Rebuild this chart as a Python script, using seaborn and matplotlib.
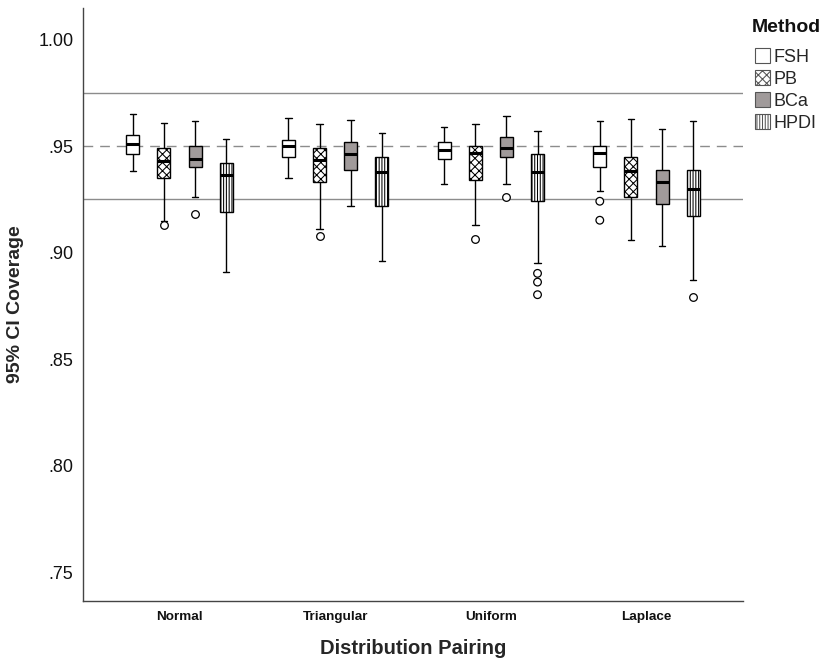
import numpy as np
import pandas as pd
import matplotlib
matplotlib.use("Agg")
import matplotlib.pyplot as plt
from matplotlib.patches import Patch
from matplotlib.ticker import FuncFormatter
import seaborn as sns

# Coverage of 95% confidence intervals, summarised per distribution pairing and method
dists = ["Normal", "Triangular", "Uniform", "Laplace"]
methods = ["FSH", "PB", "BCa", "HPDI"]

# Five-number summaries (lower whisker, Q1, median, Q3, upper whisker), one list per method
fsh = [[.9383, .9461, .9511, .9552, .9649],
       [.9350, .9450, .9500, .9530, .9630],
       [.9320, .9439, .9481, .9520, .9591],
       [.9291, .9400, .9466, .9500, .9619]]
pb = [[.9150, .9351, .9431, .9489, .9609],
      [.9112, .9331, .9434, .9491, .9602],
      [.9130, .9341, .9466, .9500, .9602],
      [.9059, .9259, .9384, .9450, .9628]]
bca = [[.9259, .9400, .9440, .9498, .9619],
       [.9220, .9389, .9462, .9520, .9620],
       [.9322, .9450, .9492, .9541, .9642],
       [.9031, .9230, .9331, .9389, .9580]]
hpdi = [[.8911, .9191, .9365, .9422, .9531],
        [.8961, .9220, .9377, .9450, .9559],
        [.8950, .9241, .9377, .9461, .9570],
        [.8870, .9170, .9300, .9389, .9619]]

# Outlying coverage values (distribution, method, value)
out_dist = ["Normal", "Normal", "Triangular", "Uniform", "Uniform",
            "Uniform", "Uniform", "Uniform", "Laplace", "Laplace", "Laplace"]
out_method = ["PB", "BCa", "PB", "PB", "BCa",
              "HPDI", "HPDI", "HPDI", "FSH", "FSH", "HPDI"]
out_value = [.9130, .9180, .9080, .9063, .9259,
             .8903, .8862, .8803, .9241, .9152, .8791]

# Bradley's liberal bounds around the nominal level
lower_bound, nominal, upper_bound = 0.925, 0.95, 0.975

fills = {"FSH": "white", "PB": "white", "BCa": "#a09a9a", "HPDI": "white"}
hatches = {"FSH": "", "PB": "xxxx", "BCa": "", "HPDI": "||||||"}

summaries = {"FSH": fsh, "PB": pb, "BCa": bca, "HPDI": hpdi}
rows = []
for m in methods:
    for d, five in zip(dists, summaries[m]):
        for v in five:
            rows.append({"dist": d, "method": m, "value": v})
box_df = pd.DataFrame(rows)
out_df = pd.DataFrame({"dist": out_dist, "method": out_method, "value": out_value})

sns.set_style("white")
plt.rcParams["font.family"] = ["Liberation Sans", "DejaVu Sans"]
plt.rcParams["hatch.linewidth"] = 0.75

fig = plt.figure(figsize=(8.27, 6.65), dpi=100)
ax = fig.add_axes([83 / 827, 1 - 601 / 665, 660 / 827, 593 / 665])

for yv in (upper_bound, lower_bound):
    ax.axhline(yv, color="#8c8c8c", lw=1.0, zorder=0.5)
ax.axhline(nominal, color="#8c8c8c", lw=1.0, ls=(0, (7, 5)), zorder=0.5)

sns.boxplot(data=box_df, x="dist", y="value", hue="method",
            order=dists, hue_order=methods, palette=fills,
            width=0.8, gap=0.58, whis=np.inf, linecolor="black",
            linewidth=1.0, medianprops={"linewidth": 2.2, "color": "black"},
            saturation=1, legend=False, ax=ax)

# hatch each box according to its method slot
for p in ax.patches:
    verts = p.get_path().vertices
    cx = verts[:, 0].mean()
    off = cx - round(cx)
    idx = int(round((off + 0.3) / 0.2))
    if 0 <= idx < len(methods):
        p.set_hatch(hatches[methods[idx]])

sns.stripplot(data=out_df, x="dist", y="value", hue="method",
              order=dists, hue_order=methods,
              palette={m: "white" for m in methods},
              dodge=True, jitter=False, size=5.5, edgecolor="black",
              linewidth=0.9, legend=False, ax=ax, zorder=3)

ax.set_xlim(-0.62, 3.62)
ax.set_ylim(0.7367, 1.0147)
ax.set_yticks([0.75, 0.80, 0.85, 0.90, 0.95, 1.00])
ax.yaxis.set_major_formatter(FuncFormatter(
    lambda v, _: f"{v:.2f}"[1:] if v < 1 else f"{v:.2f}"))
ax.tick_params(axis="y", length=0, pad=7, labelsize=13, labelcolor="#111111")
ax.tick_params(axis="x", length=0, pad=7, labelsize=9.7, labelcolor="#111111")
for lab in ax.get_xticklabels():
    lab.set_fontweight("bold")

ax.set_xlabel("Distribution Pairing", fontsize=14.5, fontweight="bold", labelpad=12)
ax.set_ylabel("95% CI Coverage", fontsize=14, fontweight="bold", labelpad=10)

for side in ("top", "right"):
    ax.spines[side].set_visible(False)
for side in ("left", "bottom"):
    ax.spines[side].set_color("#444444")
    ax.spines[side].set_linewidth(1.0)

# legend: title placed on its own, entries below
fig.text(752 / 827, 1 - 28 / 665, "Method", fontsize=14, fontweight="bold",
         ha="left", va="center", color="#111111")
handles = [Patch(facecolor=fills[m], edgecolor="#555555", hatch=hatches[m],
                 linewidth=0.8, label=m) for m in methods]
leg = ax.legend(handles=handles, loc="upper left",
                bbox_to_anchor=(1.01, 1 - 35 / 593), frameon=False, fontsize=13,
                handlelength=0.85, handleheight=0.85, handletextpad=0.2,
                labelspacing=0.25, borderaxespad=0, borderpad=0.3)

fig.savefig("out.png", dpi=100)
